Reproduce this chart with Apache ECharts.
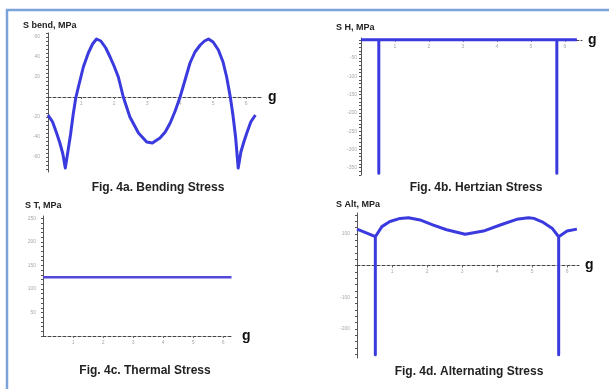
<!DOCTYPE html>
<html><head><meta charset="utf-8">
<script src="https://cdn.jsdelivr.net/npm/echarts@6/dist/echarts.min.js"></script>
<style>html,body{margin:0;padding:0;background:#fff}#c{width:609px;height:389px}</style>
</head><body><div id="c"></div>
<script>
// ---- data ----
const xTickLabels = [1, 2, 3, 4, 5, 6];

const bendG = [0, 0.14, 0.26, 0.36, 0.45, 0.5236, 0.6, 0.68, 0.76, 0.84, 0.92, 1.07, 1.22, 1.35, 1.47, 1.6, 1.75, 1.88, 2.0, 2.13, 2.28, 2.48, 2.74, 2.99, 3.16, 3.39, 3.55, 3.70, 3.85, 4.0, 4.15, 4.3, 4.45, 4.61, 4.74, 4.86, 5.0, 5.16, 5.3, 5.41, 5.52, 5.6, 5.68, 5.7596, 5.84, 5.93, 6.02, 6.14, 6.28];
const bendS = [-18, -25, -36, -46, -57, -71, -55, -38, -18, -1, 10, 30, 44, 53, 58, 56, 49, 40, 31, 20, 0, -20, -36, -45, -46, -41, -35, -26, -14, 0, 17, 34, 45, 52, 56, 58, 55, 47, 35, 20, 0, -18, -40, -71, -55, -45, -36, -25, -18];
const bendTicks = [-60, -40, -20, 20, 40, 60];

const hertzG = [0, 0.5236, 0.5236, 0.5236, 5.7596, 5.7596, 5.7596, 6.35];
const hertzS = [0, 0, -365, 0, 0, -365, 0, 0];
const hertzTicks = [-350, -300, -250, -200, -150, -100, -50];

const thermalG = [0, 6.28];
const thermalS = [125, 125];
const thermalTicks = [50, 100, 150, 200, 250];

const altG = [0, 0.23, 0.5236, 0.5236, 0.5236, 0.71, 0.94, 1.23, 1.47, 1.8, 2.18, 2.56, 3.09, 3.61, 4.09, 4.56, 4.9, 5.05, 5.32, 5.57, 5.7596, 5.7596, 5.7596, 6.0, 6.28];
const altS = [115, 105, 91, -282, 91, 123, 139, 149, 151, 144, 128, 113, 99, 109, 128, 146, 151, 149, 136, 118, 91, -282, 91, 109, 115];
const altTicks = [-200, -100, 100];

// ---- chart ----
const FONT = 'Liberation Sans, Arial, sans-serif';
function pairs(g, s) { return g.map((v, i) => [v, s[i]]); }
function steps(a, b, st) { const r = []; for (let v = a; v <= b + 1e-9; v += st) r.push(Math.round(v * 100) / 100); return r; }

const panels = [
  { grid: { left: 48, top: 33, width: 214, height: 139 }, xmax: 6.48, ymin: -75, ymax: 64, minor: steps(-72, 64, 4), labels: bendTicks, data: pairs(bendG, bendS), color: '#3a3ade', lw: 3, lblMargin: 8, gGap: 6 },
  { grid: { left: 361, top: 38, width: 221, height: 137 }, xmax: 6.5, ymin: -370, ymax: 5, minor: steps(-370, 0, 10), labels: hertzTicks, data: pairs(hertzG, hertzS), color: '#3a3ade', lw: 3, lblMargin: 4, gGap: 6 },
  { grid: { left: 43, top: 216, width: 190, height: 120 }, xmax: 6.33, ymin: 0, ymax: 255, minor: steps(0, 250, 10), labels: thermalTicks, data: pairs(thermalG, thermalS), color: '#5548da', lw: 2.5, lblMargin: 7, gGap: 9 },
  { grid: { left: 357, top: 213, width: 222, height: 145 }, xmax: 6.34, ymin: -292, ymax: 166, minor: steps(-280, 160, 20), labels: altTicks, data: pairs(altG, altS), color: '#3a3ade', lw: 3, lblMargin: 7, gGap: 6 }
];

const option = {
  animation: false,
  backgroundColor: '#fff',
  grid: panels.map(p => Object.assign({ containLabel: false }, p.grid)),
  xAxis: panels.map((p, i) => ({
    type: 'value', gridIndex: i, min: 0, max: p.xmax, position: 'bottom',
    offset: -p.grid.height * (0 - p.ymin) / (p.ymax - p.ymin),
    axisLine: { show: true, onZero: false, lineStyle: { color: '#444', width: 1, type: [3, 2] } },
    axisTick: { show: true, customValues: xTickLabels, length: 2, lineStyle: { color: '#666' } },
    axisLabel: { customValues: xTickLabels, fontSize: 5, color: '#aaa', margin: 4, fontFamily: FONT },
    splitLine: { show: false },
    name: 'g', nameLocation: 'end', nameGap: p.gGap,
    nameTextStyle: { fontSize: 14, fontWeight: 'bold', color: '#111', fontFamily: FONT }
  })),
  yAxis: panels.map((p, i) => ({
    type: 'value', gridIndex: i, min: p.ymin, max: p.ymax,
    axisLine: { show: true, onZero: false, lineStyle: { color: '#555', width: 1 } },
    axisTick: { show: true, customValues: p.minor, length: 2, lineStyle: { color: '#555' } },
    axisLabel: { customValues: p.labels, fontSize: 5, color: '#aaa', margin: p.lblMargin, fontFamily: FONT },
    splitLine: { show: false }
  })),
  series: panels.map((p, i) => ({
    type: 'line', xAxisIndex: i, yAxisIndex: i, data: p.data,
    showSymbol: false, symbol: 'none', smooth: false,
    lineStyle: { color: p.color, width: p.lw, join: 'round' }
  })),
  graphic: [
    { type: 'rect', shape: { x: 7, y: 10, width: 620, height: 400 }, style: { fill: 'none', stroke: '#7ba3d9', lineWidth: 2.5 }, z: 0 },
    { type: 'text', x: 23, y: 26, style: { text: 'S bend, MPa', font: 'bold 9px ' + FONT, fill: '#222', verticalAlign: 'middle' } },
    { type: 'text', x: 336, y: 28, style: { text: 'S H, MPa', font: 'bold 9px ' + FONT, fill: '#222', verticalAlign: 'middle' } },
    { type: 'text', x: 25, y: 206, style: { text: 'S T, MPa', font: 'bold 9px ' + FONT, fill: '#222', verticalAlign: 'middle' } },
    { type: 'text', x: 336, y: 205, style: { text: 'S Alt, MPa', font: 'bold 9px ' + FONT, fill: '#222', verticalAlign: 'middle' } },
    { type: 'text', x: 158, y: 188, style: { text: 'Fig. 4a. Bending Stress', font: 'bold 12px ' + FONT, fill: '#222', align: 'center', verticalAlign: 'middle' } },
    { type: 'text', x: 476, y: 188, style: { text: 'Fig. 4b. Hertzian Stress', font: 'bold 12px ' + FONT, fill: '#222', align: 'center', verticalAlign: 'middle' } },
    { type: 'text', x: 145, y: 371, style: { text: 'Fig. 4c. Thermal Stress', font: 'bold 12px ' + FONT, fill: '#222', align: 'center', verticalAlign: 'middle' } },
    { type: 'text', x: 469, y: 372, style: { text: 'Fig. 4d. Alternating Stress', font: 'bold 12px ' + FONT, fill: '#222', align: 'center', verticalAlign: 'middle' } }
  ]
};

const chart = echarts.init(document.getElementById('c'), null, { renderer: 'canvas' });
chart.setOption(option);
</script>
</body></html>
